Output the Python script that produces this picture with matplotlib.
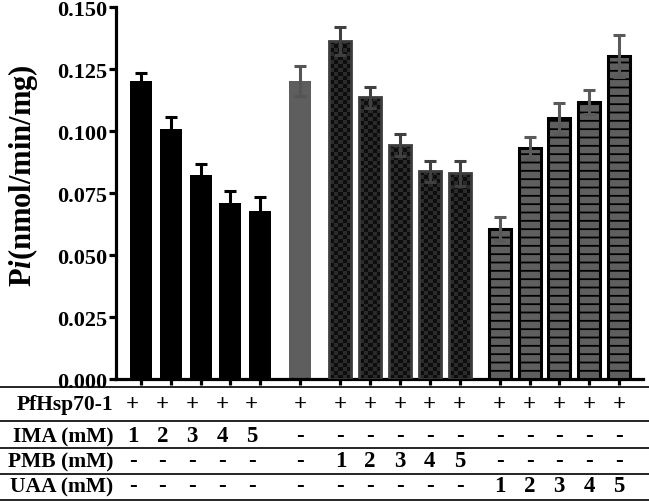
import matplotlib
matplotlib.use('Agg')
import matplotlib.pyplot as plt
import numpy as np
from matplotlib.colors import ListedColormap
from matplotlib.lines import Line2D
from matplotlib.transforms import blended_transform_factory

plt.rcParams['font.family'] = 'Liberation Serif'
plt.rcParams['font.weight'] = 'bold'
plt.rcParams['mathtext.fontset'] = 'custom'
plt.rcParams['mathtext.it'] = 'Liberation Serif:italic:bold'
plt.rcParams['mathtext.rm'] = 'Liberation Serif:bold'
plt.rcParams['hatch.linewidth'] = 1.3
plt.rcParams['hatch.color'] = 'black'

# data
ima_vals = [0.1203, 0.1008, 0.0823, 0.0710, 0.0679]
ima_err = [0.0030, 0.0048, 0.0043, 0.0047, 0.0054]
ctrl_val = [0.1203]
ctrl_err = [0.0060]
pmb_vals = [0.1364, 0.1136, 0.0944, 0.0837, 0.0829]
pmb_err = [0.0056, 0.0043, 0.0043, 0.0043, 0.0050]
uaa_vals = [0.0604, 0.0931, 0.1051, 0.1118, 0.1302]
uaa_err = [0.0048, 0.0045, 0.0063, 0.0048, 0.0086]

row_labels = ['PfHsp70-1', 'IMA (mM)', 'PMB (mM)', 'UAA (mM)']
table_rows = [
    ['+'] * 16,
    ['1', '2', '3', '4', '5'] + ['-'] * 11,
    ['-'] * 6 + ['1', '2', '3', '4', '5'] + ['-'] * 5,
    ['-'] * 11 + ['1', '2', '3', '4', '5'],
]

# layout
gap = 1.35
pos_ima = np.arange(5)
pos_ctrl = np.array([4 + gap])
pos_pmb = pos_ctrl[0] + gap + np.arange(5)
pos_uaa = pos_pmb[-1] + gap + np.arange(5)
all_pos = np.concatenate([pos_ima, pos_ctrl, pos_pmb, pos_uaa])
width = 0.74

fig = plt.figure(figsize=(6.49, 5.02), dpi=100)
ax = fig.add_axes([0.1787, 0.243, 0.812, 1 - 8 / 502 - 0.243])

ax.bar(pos_ima, ima_vals, width, color='black', zorder=2)
ax.errorbar(pos_ima, ima_vals, yerr=ima_err, fmt='none', ecolor='black',
            elinewidth=2.2, capsize=4.5, capthick=2.2, zorder=4)

ax.bar(pos_ctrl, ctrl_val, width, color='#5e5e5e', zorder=2)
ax.errorbar(pos_ctrl, ctrl_val, yerr=ctrl_err, fmt='none', ecolor='#555555',
            elinewidth=2.2, capsize=4.5, capthick=2.2, zorder=4)

# PMB bars: checkerboard fill
pmb_bars = ax.bar(pos_pmb, pmb_vals, width, color='#111111', zorder=2)
checker_cmap = ListedColormap(['#0d0d0d', '#2b2b2b'])
for b in pmb_bars:
    x0, w, h = b.get_x(), b.get_width(), b.get_height()
    nrows = max(1, int(round(h / 0.0016)))
    ncols = 5
    checker = np.add.outer(np.arange(nrows), np.arange(ncols)) % 2
    im = ax.imshow(checker, extent=(x0, x0 + w, 0, h), cmap=checker_cmap,
                   aspect='auto', interpolation='nearest', zorder=2.5)
    im.set_clip_path(b)
ax.bar(pos_pmb, pmb_vals, width, facecolor='none', edgecolor='#3c3c3c',
       linewidth=2.0, zorder=3)
ax.errorbar(pos_pmb, pmb_vals, yerr=pmb_err, fmt='none', ecolor='#404040',
            elinewidth=2.2, capsize=4.5, capthick=2.2, zorder=4)

# UAA bars: horizontal lines
ax.bar(pos_uaa, uaa_vals, width, color='#5f5f5f', edgecolor='black',
       linewidth=2.2, hatch='--', zorder=3)
ax.errorbar(pos_uaa, uaa_vals, yerr=uaa_err, fmt='none', ecolor='#5a5a5a',
            elinewidth=2.2, capsize=4.5, capthick=2.2, zorder=4)

ax.set_xlim(-0.84, all_pos[-1] + 0.81)
ax.set_ylim(0, 0.150)
ax.set_yticks(np.arange(0, 0.1501, 0.025))
ax.set_yticklabels(['%.3f' % v for v in np.arange(0, 0.1501, 0.025)])
ax.set_xticks(all_pos)
ax.set_xticklabels([])
for s in ['top', 'right']:
    ax.spines[s].set_visible(False)
for s in ['left', 'bottom']:
    ax.spines[s].set_linewidth(2.3)
ax.tick_params(axis='y', length=5, width=2.3, labelsize=16, pad=1.5)
ax.tick_params(axis='x', length=4, width=2.3)
for lab in ax.get_yticklabels():
    lab.set_fontweight('bold')

ax.set_ylabel(r'P$\it{i}$(nmol/min/mg)', fontsize=22, fontweight='bold')
ax.yaxis.set_label_coords(-0.145, 0.55)

# condition table below the axis
line_ys = [1 - 388 / 502, 1 - 422 / 502, 1 - 449 / 502, 1 - 475 / 502, 1 - 500.5 / 502]
for y in line_ys:
    fig.add_artist(Line2D([0, 1], [y, y], transform=fig.transFigure,
                          color='black', linewidth=1.2))

row_ys = [1 - 405 / 502, 1 - 437 / 502, 1 - 462 / 502, 1 - 487 / 502]
trans = blended_transform_factory(ax.transData, fig.transFigure)
col_x = all_pos.astype(float).copy()
col_x[:5] -= 0.28
for label, vals, y in zip(row_labels, table_rows, row_ys):
    fig.text(0.175, y, label, ha='right', va='center', fontsize=15.5,
             fontweight='bold')
    for x, v in zip(col_x, vals):
        ax.text(x, y, v, transform=trans, ha='center', va='center',
                fontsize=16.5, fontweight='bold', clip_on=False)

fig.savefig('out.png', dpi=100)
